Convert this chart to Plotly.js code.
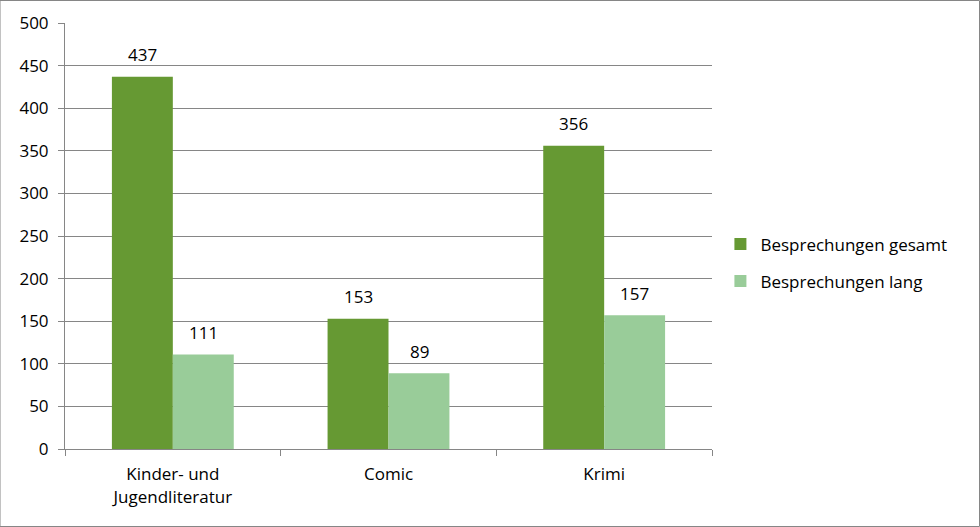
<!DOCTYPE html>
<html>
<head>
<meta charset="utf-8">
<script src="https://cdn.plot.ly/plotly-3.0.1.min.js"></script>
<style>
html,body{margin:0;padding:0;background:#fff;}
#chart{width:980px;height:527px;}
</style>
</head>
<body>
<div id="chart"></div>
<script>
const categories = ["Kinder- und<br>Jugendliteratur", "Comic", "Krimi"];
const seriesNames = ["Besprechungen gesamt", "Besprechungen lang"];
const gesamt = [437, 153, 356];
const lang = [111, 89, 157];
const yTicks = [0, 50, 100, 150, 200, 250, 300, 350, 400, 450, 500];

const font = {family: "'Open Sans', Lato, sans-serif", size: 17, color: "#000"};

const traces = [
  {type: "bar", name: seriesNames[0], x: categories, y: gesamt,
   marker: {color: "#669933"}, legendgroup: "a"},
  {type: "bar", name: seriesNames[1], x: categories, y: lang,
   marker: {color: "#99CC99"}, legendgroup: "b"}
];

const annotations = [];
[gesamt, lang].forEach((vals, si) => {
  vals.forEach((v, i) => {
    annotations.push({x: categories[i], y: v, xref: "x", yref: "y",
      text: String(v), showarrow: false, font: font,
      xshift: si === 0 ? -30.5 : 30.5, yshift: 22, yanchor: "middle", xanchor: "center"});
  });
});

const layout = {
  width: 980, height: 527,
  margin: {l: 65, r: 268, t: 23, b: 78},
  paper_bgcolor: "#fff", plot_bgcolor: "#fff",
  font: font,
  barmode: "group", bargap: 0.435, bargroupgap: 0,
  showlegend: true,
  legend: {x: 1.013, y: 0.437, yanchor: "middle", xanchor: "left",
    font: font, traceorder: "grouped", tracegroupgap: 12},
  annotations: annotations,
  xaxis: {type: "category", showgrid: false, showline: true, linecolor: "#868686", linewidth: 1,
    ticks: "outside", tickson: "boundaries", ticklen: 6, tickcolor: "#868686",
    tickfont: font, ticklabelstandoff: 10, fixedrange: true},
  yaxis: {range: [0, 500], tickvals: yTicks, ticktext: yTicks.map(String),
    showgrid: true, gridcolor: "#868686", gridwidth: 1,
    showline: true, linecolor: "#868686", linewidth: 1,
    ticks: "outside", ticklen: 6, tickcolor: "#868686", tickfont: font,
    ticklabelstandoff: 6, zeroline: false},
  shapes: [{type: "rect", xref: "paper", yref: "paper", x0: -65/647, x1: 1 + 267.5/647,
    y0: -77.5/426, y1: 1 + 22.5/426, line: {color: "#868686", width: 1}}]
};

Plotly.newPlot("chart", traces, layout, {displayModeBar: false, staticPlot: true});
</script>
</body>
</html>
